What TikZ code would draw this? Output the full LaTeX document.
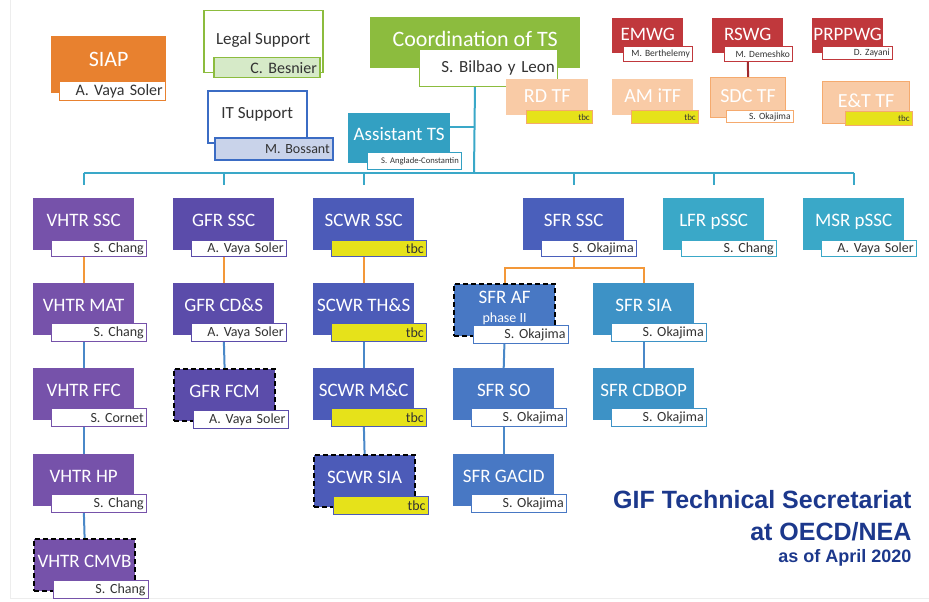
\documentclass[tikz,border=0pt]{standalone}
\usepackage{fontspec}
\newfontfamily\carlito{Carlito}
\newfontfamily\arialf{Liberation Sans}
\usetikzlibrary{backgrounds}

\definecolor{vhtrc}{RGB}{118,82,170}
\definecolor{gfrc}{RGB}{91,76,170}
\definecolor{scwrc}{RGB}{76,91,184}
\definecolor{sfrc}{RGB}{74,95,187}
\definecolor{sfrbc}{RGB}{72,120,196}
\definecolor{sfrsc}{RGB}{61,146,198}
\definecolor{lfrc}{RGB}{58,168,200}
\definecolor{asstc}{RGB}{51,160,194}
\definecolor{coordc}{RGB}{140,188,62}
\definecolor{siapc}{RGB}{232,129,47}
\definecolor{wgc}{RGB}{192,56,60}
\definecolor{peachc}{RGB}{249,203,166}
\definecolor{peachb}{RGB}{245,170,110}
\definecolor{tbcc}{RGB}{230,226,26}
\definecolor{itc}{RGB}{59,108,196}
\definecolor{itfill}{RGB}{201,211,234}
\definecolor{legalfill}{RGB}{214,234,200}
\definecolor{orangec}{RGB}{243,152,57}
\definecolor{bluec}{RGB}{74,136,200}
\definecolor{busc}{RGB}{58,168,200}
\definecolor{redc}{RGB}{160,42,46}
\definecolor{titlec}{RGB}{28,56,140}

\begin{document}
\begin{tikzpicture}[x=1pt, y=-1pt,
  unit/.style={fill=#1, anchor=north west, minimum width=101pt, minimum height=52pt,
    inner sep=0pt, text=white, font=\carlito\fontsize{19}{22}\selectfont, text depth=8pt},
  tag/.style={draw=#1, line width=1.2pt, fill=white, anchor=south east,
    minimum height=18pt, inner sep=0pt, inner xsep=3pt, text width=89pt,
    align=right, text=black!80, font=\carlito\fontsize{14}{16}\selectfont},
  tbc/.style={fill=tbcc},
  dashbox/.style={draw=black, line width=2.2pt, dash pattern=on 5pt off 3pt},
  link/.style={draw=#1, line width=2pt}]
  \useasboundingbox (0,0) rectangle (929,602);
  \draw[black!7, line width=1pt] (10,0) -- (10,598) -- (929,598);

  % top row
  \node[unit=siapc, minimum width=115pt, minimum height=57pt, text depth=10pt,
    font=\carlito\fontsize{22}{24}\selectfont] (siap) at (51,36) {SIAP};
  \node[tag=siapc, text width=100pt, minimum height=19pt,
    font=\carlito\fontsize{16}{18}\selectfont] (siap-n) at ([shift={(0,8)}]siap.south east) {A. Vaya Soler};

  \node[unit=white, draw=coordc, line width=1.5pt, minimum width=119pt, minimum height=62pt,
    text=black!80, text depth=7pt, font=\carlito\fontsize{17}{20}\selectfont] (legal) at (203,10) {Legal Support};
  \node[tag=coordc, fill=legalfill, text width=100pt, minimum height=20pt,
    font=\carlito\fontsize{16}{18}\selectfont] (legal-n) at ([shift={(-3,5)}]legal.south east) {C. Besnier};

  \node[unit=white, draw=itc, line width=1.5pt, minimum width=99pt,
    text=black!80, font=\carlito\fontsize{17}{20}\selectfont] (it) at (207,90) {IT Support};
  \node[tag=itc, fill=itfill, text width=112pt, minimum height=22pt] (it-n)
    at ([shift={(26,17)}]it.south east) {M. Bossant};

  \node[unit=asstc, minimum width=102pt, minimum height=50pt] (asst) at (348,113) {Assistant TS};
  \node[tag=asstc, text width=88pt, minimum height=17pt,
    font=\carlito\fontsize{8.6}{10}\selectfont] (asst-n) at ([shift={(12,7)}]asst.south east) {S. Anglade-Constantin};

  \node[unit=coordc, minimum width=210pt, minimum height=51pt,
    font=\carlito\fontsize{22}{24}\selectfont] (coord) at (370,17) {Coordination of TS};
  \node[tag=coordc, text width=132pt, minimum height=37pt,
    font=\carlito\fontsize{17}{20}\selectfont] (coord-n) at ([shift={(-22,19)}]coord.south east) {S. Bilbao y Leon};

  % working groups and task forces
  \node[unit=wgc, minimum width=71pt, minimum height=35pt, text depth=2pt] (emwg) at (612,18) {EMWG};
  \node[tag=wgc, text width=63pt, minimum height=15pt,
    font=\carlito\fontsize{9.5}{11}\selectfont] (emwg-n) at ([shift={(10,9)}]emwg.south east) {M. Berthelemy};
  \node[unit=wgc, minimum width=71pt, minimum height=35pt, text depth=2pt] (rswg) at (712,18) {RSWG};
  \node[tag=wgc, text width=62pt, minimum height=15pt,
    font=\carlito\fontsize{9.5}{11}\selectfont] (rswg-n) at ([shift={(10,9)}]rswg.south east) {M. Demeshko};
  \node[unit=wgc, minimum width=71pt, minimum height=35pt, text depth=2pt] (prppwg) at (812,18) {PRPPWG};
  \node[tag=wgc, text width=64pt, minimum height=13pt,
    font=\carlito\fontsize{9.5}{11}\selectfont] (prppwg-n) at ([shift={(10,7)}]prppwg.south east) {D. Zayani};

  \node[unit=peachc, minimum width=82pt, minimum height=36pt, text depth=3pt,
    font=\carlito\fontsize{20}{22}\selectfont] (rdtf) at (506,79) {RD TF};
  \node[tag=peachb, tbc, text width=60pt, minimum height=13pt,
    font=\carlito\fontsize{9}{10}\selectfont] (rdtf-n) at ([shift={(5,9)}]rdtf.south east) {tbc};
  \node[unit=peachc, minimum width=81pt, minimum height=36pt, text depth=3pt,
    font=\carlito\fontsize{20}{22}\selectfont] (amitf) at (612,79) {AM iTF};
  \node[tag=peachb, tbc, text width=61pt, minimum height=13pt,
    font=\carlito\fontsize{9}{10}\selectfont] (amitf-n) at ([shift={(6,9)}]amitf.south east) {tbc};
  \node[unit=peachc, draw=peachb, line width=1.2pt, minimum width=75pt, minimum height=40pt,
    text depth=3pt, font=\carlito\fontsize{20}{22}\selectfont] (sdctf) at (710,77) {SDC TF};
  \node[tag=peachb, text width=61pt, minimum height=12pt,
    font=\carlito\fontsize{9.5}{11}\selectfont] (sdctf-n) at ([shift={(8,5)}]sdctf.south east) {S. Okajima};
  \node[unit=peachc, draw=peachb, line width=1.2pt, minimum width=87pt, minimum height=42pt,
    text depth=4pt, font=\carlito\fontsize{20}{22}\selectfont] (ettf) at (822,81) {E\&T TF};
  \node[tag=peachb, tbc, text width=61pt, minimum height=14pt,
    font=\carlito\fontsize{9}{10}\selectfont] (ettf-n) at ([shift={(3,2)}]ettf.south east) {tbc};

  % steering committees, row 1
  \node[unit=vhtrc] (vhtrssc) at (33,198) {VHTR SSC};
  \node[tag=vhtrc, minimum height=16pt] (vhtrssc-n) at ([shift={(13,7)}]vhtrssc.south east) {S. Chang};
  \node[unit=gfrc] (gfrssc) at (173,198) {GFR SSC};
  \node[tag=gfrc, minimum height=16pt] (gfrssc-n) at ([shift={(13,7)}]gfrssc.south east) {A. Vaya Soler};
  \node[unit=scwrc] (scwrssc) at (313,198) {SCWR SSC};
  \node[tag=scwrc, tbc, minimum height=16pt] (scwrssc-n) at ([shift={(13,7)}]scwrssc.south east) {tbc};
  \node[unit=sfrc] (sfrssc) at (523,198) {SFR SSC};
  \node[tag=sfrc, minimum height=16pt] (sfrssc-n) at ([shift={(13,7)}]sfrssc.south east) {S. Okajima};
  \node[unit=lfrc] (lfr) at (663,198) {LFR pSSC};
  \node[tag=lfrc, minimum height=16pt] (lfr-n) at ([shift={(13,7)}]lfr.south east) {S. Chang};
  \node[unit=lfrc] (msr) at (803,198) {MSR pSSC};
  \node[tag=lfrc, minimum height=16pt] (msr-n) at ([shift={(13,7)}]msr.south east) {A. Vaya Soler};

  % row 2
  \node[unit=vhtrc] (vhtrmat) at (33,283) {VHTR MAT};
  \node[tag=vhtrc] (vhtrmat-n) at ([shift={(13,7)}]vhtrmat.south east) {S. Chang};
  \node[unit=gfrc] (gfrcds) at (173,283) {GFR CD\&S};
  \node[tag=gfrc] (gfrcds-n) at ([shift={(13,7)}]gfrcds.south east) {A. Vaya Soler};
  \node[unit=scwrc] (scwrths) at (313,283) {SCWR TH\&S};
  \node[tag=scwrc, tbc] (scwrths-n) at ([shift={(13,7)}]scwrths.south east) {tbc};
  \node[unit=sfrbc, dashbox, align=center, text depth=6pt] (sfraf) at (453,283)
    {SFR AF\\[-3pt]{\fontsize{14}{15}\selectfont phase II}};
  \node[tag=sfrbc] (sfraf-n) at ([shift={(13,7)}]sfraf.south east) {S. Okajima};
  \node[unit=sfrsc] (sfrsia) at (593,283) {SFR SIA};
  \node[tag=sfrsc] (sfrsia-n) at ([shift={(13,7)}]sfrsia.south east) {S. Okajima};

  % row 3
  \node[unit=vhtrc] (vhtrffc) at (33,368) {VHTR FFC};
  \node[tag=vhtrc] (vhtrffc-n) at ([shift={(13,7)}]vhtrffc.south east) {S. Cornet};
  \node[unit=gfrc, dashbox] (gfrfcm) at (173,368) {GFR FCM};
  \node[tag=gfrc] (gfrfcm-n) at ([shift={(13,7)}]gfrfcm.south east) {A. Vaya Soler};
  \node[unit=scwrc] (scwrmc) at (313,368) {SCWR M\&C};
  \node[tag=scwrc, tbc] (scwrmc-n) at ([shift={(13,7)}]scwrmc.south east) {tbc};
  \node[unit=sfrbc] (sfrso) at (453,368) {SFR SO};
  \node[tag=sfrbc] (sfrso-n) at ([shift={(13,7)}]sfrso.south east) {S. Okajima};
  \node[unit=sfrsc] (sfrcdbop) at (593,368) {SFR CDBOP};
  \node[tag=sfrsc] (sfrcdbop-n) at ([shift={(13,7)}]sfrcdbop.south east) {S. Okajima};

  % row 4 and 5
  \node[unit=vhtrc] (vhtrhp) at (33,454) {VHTR HP};
  \node[tag=vhtrc] (vhtrhp-n) at ([shift={(13,7)}]vhtrhp.south east) {S. Chang};
  \node[unit=scwrc, dashbox] (scwrsia) at (313,454) {SCWR SIA};
  \node[tag=scwrc, tbc] (scwrsia-n) at ([shift={(13,7)}]scwrsia.south east) {tbc};
  \node[unit=sfrbc] (sfrgacid) at (453,454) {SFR GACID};
  \node[tag=sfrbc] (sfrgacid-n) at ([shift={(13,7)}]sfrgacid.south east) {S. Okajima};
  \node[unit=vhtrc, dashbox] (vhtrcmvb) at (33,538) {VHTR CMVB};
  \node[tag=vhtrc] (vhtrcmvb-n) at ([shift={(13,7)}]vhtrcmvb.south east) {S. Chang};

  % title
  \node[anchor=base east, text=titlec, font=\arialf\bfseries\fontsize{25}{28}\selectfont]
    (title1) at (915,508) {GIF Technical Secretariat};
  \node[anchor=base east, text=titlec, font=\arialf\bfseries\fontsize{25}{28}\selectfont]
    (title2) at (915,540) {at OECD/NEA};
  \node[anchor=base east, text=titlec, font=\arialf\bfseries\fontsize{18}{20}\selectfont]
    (title3) at (915,562) {as of April 2020};

  % connectors
  \begin{scope}[on background layer]
    \coordinate (bus) at (474,173);
    \draw[link=busc] (coord.south) -- (bus);
    \draw[link=busc] ([yshift=11pt]asst.east) -- ([yshift=11pt]asst.east -| bus);
    \draw[link=busc] (vhtrssc.north |- bus) -- (msr.north |- bus);
    \draw[link=busc, shorten >=13pt] (vhtrssc.north |- bus) -- (vhtrssc.north);
    \draw[link=busc, shorten >=13pt] (gfrssc.north |- bus) -- (gfrssc.north);
    \draw[link=busc, shorten >=13pt] (scwrssc.north |- bus) -- (scwrssc.north);
    \draw[link=busc, shorten >=13pt] (sfrssc.north |- bus) -- (sfrssc.north);
    \draw[link=busc, shorten >=13pt] (lfr.north |- bus) -- (lfr.north);
    \draw[link=busc, shorten >=13pt] (msr.north |- bus) -- (msr.north);
    \draw[link=redc] (rswg.south) -- (sdctf.north);

    \draw[link=orangec] (vhtrssc.south) -- (vhtrmat.north);
    \draw[link=orangec] (gfrssc.south) -- (gfrcds.north);
    \draw[link=orangec] (scwrssc.south) -- (scwrths.north);
    \draw[link=orangec] (sfrssc.south) -- ++(0,18) -| (sfraf.north);
    \draw[link=orangec] (sfrssc.south) -- ++(0,18) -| (sfrsia.north);

    \draw[link=bluec] (vhtrmat.south) -- (vhtrffc.north);
    \draw[link=bluec] (vhtrffc.south) -- (vhtrhp.north);
    \draw[link=bluec] (vhtrhp.south) -- (vhtrcmvb.north);
    \draw[link=bluec] (gfrcds.south) -- (gfrfcm.north);
    \draw[link=bluec] (scwrths.south) -- (scwrmc.north);
    \draw[link=bluec] (scwrmc.south) -- (scwrsia.north);
    \draw[link=bluec] (sfraf.south) -- (sfrso.north);
    \draw[link=bluec] (sfrso.south) -- (sfrgacid.north);
    \draw[link=bluec] (sfrsia.south) -- (sfrcdbop.north);
  \end{scope}
\end{tikzpicture}
\end{document}
